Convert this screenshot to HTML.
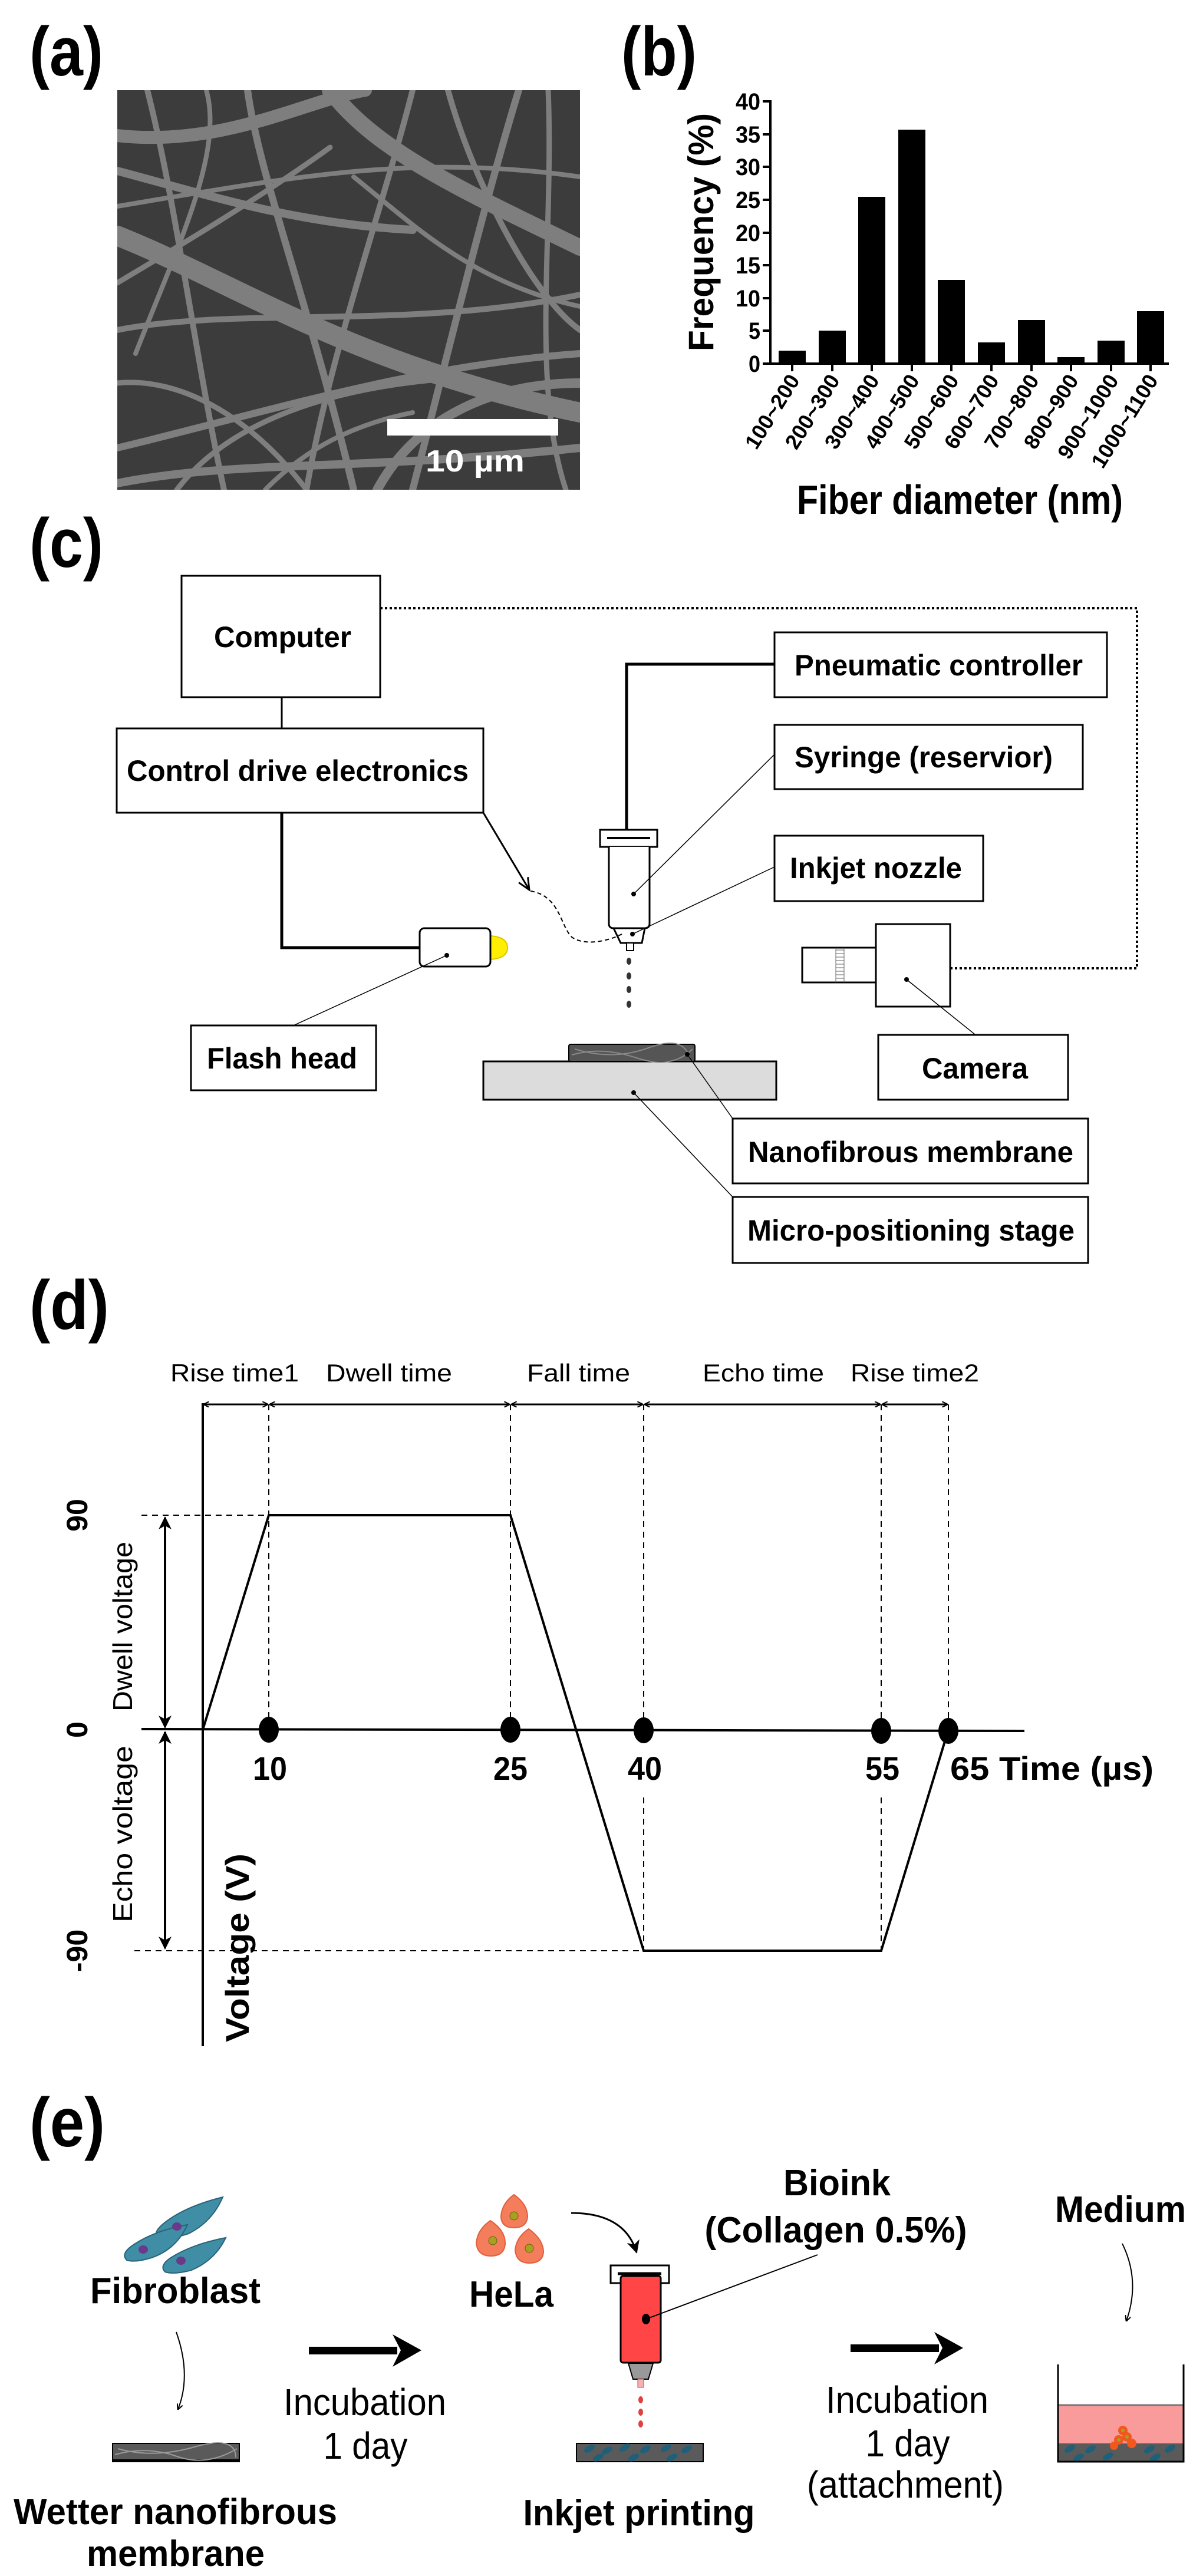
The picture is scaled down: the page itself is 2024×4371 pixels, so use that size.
<!DOCTYPE html>
<html><head><meta charset="utf-8"><style>
html,body{margin:0;padding:0;background:#fff}
svg{display:block}
text{font-family:"Liberation Sans",Arial,sans-serif}
.b{font-weight:bold}
</style></head><body>
<svg width="2024" height="4371" viewBox="0 0 2024 4371" xmlns="http://www.w3.org/2000/svg">
<defs>
<marker id="ah" markerWidth="10" markerHeight="10" refX="9" refY="5" orient="auto" markerUnits="userSpaceOnUse"><path d="M0,0 L10,5 L0,10" fill="none" stroke="#000" stroke-width="2"/></marker>
<marker id="ahs" markerWidth="22" markerHeight="22" refX="20" refY="11" orient="auto" markerUnits="userSpaceOnUse"><path d="M0,2 L20,11 L0,20" fill="none" stroke="#000" stroke-width="3"/></marker>
<marker id="ahf" markerWidth="22" markerHeight="22" refX="20" refY="11" orient="auto" markerUnits="userSpaceOnUse"><path d="M0,0 L22,11 L0,22 L6,11Z" fill="#000"/></marker>
<clipPath id="sem"><rect x="199" y="153" width="785" height="678"/></clipPath>
</defs>

<!-- (a) -->
<text x="50" y="128" class="b" font-size="118" textLength="125" lengthAdjust="spacingAndGlyphs">(a)</text>
<g clip-path="url(#sem)">
<rect x="199" y="153" width="785" height="678" fill="#3c3c3c"/>
<g fill="none" stroke="#7e7e7e" stroke-linecap="round">
<path d="M199,400 C400,480 600,620 984,700" stroke-width="34"/>
<path d="M199,230 C380,250 520,170 620,153" stroke-width="22"/>
<path d="M560,153 C640,260 800,330 984,420" stroke-width="28"/>
<path d="M199,290 C350,330 500,380 700,390" stroke-width="14"/>
<path d="M250,153 C300,350 330,600 380,831" stroke-width="10"/>
<path d="M420,153 C440,300 520,500 600,831" stroke-width="12"/>
<path d="M700,153 C650,350 560,600 520,831" stroke-width="10"/>
<path d="M880,153 C820,350 760,600 700,831" stroke-width="12"/>
<path d="M199,560 C400,520 700,560 984,500" stroke-width="10"/>
<path d="M199,760 C450,700 700,620 984,600" stroke-width="12"/>
<path d="M199,820 C400,780 600,800 984,760" stroke-width="14"/>
<path d="M300,831 C400,700 600,650 800,640" stroke-width="9"/>
<path d="M199,480 C300,420 450,330 560,250" stroke-width="9"/>
<path d="M760,153 C800,300 900,500 984,560" stroke-width="10"/>
<path d="M199,650 C300,640 420,700 520,831" stroke-width="9"/>
<path d="M600,300 C700,380 800,480 984,520" stroke-width="8"/>
<path d="M350,153 C380,260 300,420 230,600" stroke-width="8"/>
<path d="M930,153 C940,400 900,650 960,831" stroke-width="9"/>
<path d="M199,350 C500,300 700,260 984,300" stroke-width="8"/>
<path d="M640,831 C700,720 820,650 984,650" stroke-width="16"/>
<path d="M450,831 C520,760 600,720 700,700" stroke-width="8"/>
</g>
<rect x="657" y="711" width="290" height="28" fill="#fff"/>
<text x="806" y="800" class="b" font-size="52" fill="#fff" text-anchor="middle" textLength="168" lengthAdjust="spacingAndGlyphs">10 µm</text>
</g>

<!-- (b) -->
<text x="1054" y="128" class="b" font-size="118" textLength="128" lengthAdjust="spacingAndGlyphs">(b)</text>
<g stroke="#000" stroke-width="4">
<line x1="1307" y1="170" x2="1307" y2="619"/>
<line x1="1305" y1="617" x2="1983" y2="617"/>
<line x1="1294" y1="172" x2="1307" y2="172"/><line x1="1294" y1="228" x2="1307" y2="228"/>
<line x1="1294" y1="283" x2="1307" y2="283"/><line x1="1294" y1="339" x2="1307" y2="339"/>
<line x1="1294" y1="395" x2="1307" y2="395"/><line x1="1294" y1="450" x2="1307" y2="450"/>
<line x1="1294" y1="506" x2="1307" y2="506"/><line x1="1294" y1="561" x2="1307" y2="561"/>
<line x1="1294" y1="617" x2="1307" y2="617"/>
</g>
<g class="b" font-size="40" text-anchor="end">
<text x="1290" y="186" textLength="42" lengthAdjust="spacingAndGlyphs">40</text>
<text x="1290" y="242" textLength="42" lengthAdjust="spacingAndGlyphs">35</text>
<text x="1290" y="297" textLength="42" lengthAdjust="spacingAndGlyphs">30</text>
<text x="1290" y="353" textLength="42" lengthAdjust="spacingAndGlyphs">25</text>
<text x="1290" y="409" textLength="42" lengthAdjust="spacingAndGlyphs">20</text>
<text x="1290" y="464" textLength="42" lengthAdjust="spacingAndGlyphs">15</text>
<text x="1290" y="520" textLength="42" lengthAdjust="spacingAndGlyphs">10</text>
<text x="1290" y="575" textLength="20" lengthAdjust="spacingAndGlyphs">5</text>
<text x="1290" y="631" textLength="20" lengthAdjust="spacingAndGlyphs">0</text>
</g>
<text transform="translate(1210,394) rotate(-90)" class="b" font-size="60" text-anchor="middle" textLength="404" lengthAdjust="spacingAndGlyphs">Frequency (%)</text>
<g fill="#000">
<rect x="1321" y="595" width="46" height="22"/>
<rect x="1389" y="561" width="46" height="56"/>
<rect x="1456" y="334" width="46" height="283"/>
<rect x="1524" y="220" width="46" height="397"/>
<rect x="1591" y="475" width="46" height="142"/>
<rect x="1659" y="581" width="46" height="36"/>
<rect x="1727" y="543" width="46" height="74"/>
<rect x="1794" y="606" width="46" height="11"/>
<rect x="1862" y="578" width="46" height="39"/>
<rect x="1929" y="528" width="46" height="89"/>
</g>
<g stroke="#000" stroke-width="4">
<line x1="1344" y1="617" x2="1344" y2="630"/><line x1="1412" y1="617" x2="1412" y2="630"/>
<line x1="1479" y1="617" x2="1479" y2="630"/><line x1="1547" y1="617" x2="1547" y2="630"/>
<line x1="1614" y1="617" x2="1614" y2="630"/><line x1="1682" y1="617" x2="1682" y2="630"/>
<line x1="1750" y1="617" x2="1750" y2="630"/><line x1="1817" y1="617" x2="1817" y2="630"/>
<line x1="1885" y1="617" x2="1885" y2="630"/><line x1="1952" y1="617" x2="1952" y2="630"/>
</g>
<g class="b" font-size="36" text-anchor="end">
<text transform="translate(1358,645) rotate(-58)">100~200</text>
<text transform="translate(1426,645) rotate(-58)">200~300</text>
<text transform="translate(1493,645) rotate(-58)">300~400</text>
<text transform="translate(1561,645) rotate(-58)">400~500</text>
<text transform="translate(1628,645) rotate(-58)">500~600</text>
<text transform="translate(1696,645) rotate(-58)">600~700</text>
<text transform="translate(1764,645) rotate(-58)">700~800</text>
<text transform="translate(1831,645) rotate(-58)">800~900</text>
<text transform="translate(1899,645) rotate(-58)">900~1000</text>
<text transform="translate(1966,645) rotate(-58)">1000~1100</text>
</g>
<text x="1352" y="872" class="b" font-size="70" textLength="553" lengthAdjust="spacingAndGlyphs">Fiber diameter (nm)</text>

<!-- (c) -->
<text x="50" y="962" class="b" font-size="118" textLength="125" lengthAdjust="spacingAndGlyphs">(c)</text>
<g fill="none" stroke="#000" stroke-width="3">
<rect x="308" y="977" width="337" height="206"/>
<rect x="198" y="1236" width="622" height="143"/>
<rect x="1314" y="1073" width="564" height="110"/>
<rect x="1314" y="1230" width="523" height="109"/>
<rect x="1314" y="1418" width="354" height="111"/>
<rect x="324" y="1740" width="314" height="110"/>
<rect x="1490" y="1756" width="322" height="110"/>
<rect x="1243" y="1898" width="603" height="110"/>
<rect x="1243" y="2031" width="603" height="112"/>
</g>
<g class="b" font-size="50">
<text x="363" y="1098" textLength="233" lengthAdjust="spacingAndGlyphs">Computer</text>
<text x="215" y="1325" textLength="580" lengthAdjust="spacingAndGlyphs">Control drive electronics</text>
<text x="1348" y="1146" textLength="489" lengthAdjust="spacingAndGlyphs">Pneumatic controller</text>
<text x="1348" y="1302" textLength="438" lengthAdjust="spacingAndGlyphs">Syringe (reservior)</text>
<text x="1340" y="1490" textLength="292" lengthAdjust="spacingAndGlyphs">Inkjet nozzle</text>
<text x="351" y="1813" textLength="255" lengthAdjust="spacingAndGlyphs">Flash head</text>
<text x="1564" y="1830" textLength="180" lengthAdjust="spacingAndGlyphs">Camera</text>
<text x="1269" y="1972" textLength="552" lengthAdjust="spacingAndGlyphs">Nanofibrous membrane</text>
<text x="1268" y="2105" textLength="555" lengthAdjust="spacingAndGlyphs">Micro-positioning stage</text>
</g>
<line x1="478" y1="1183" x2="478" y2="1236" stroke="#000" stroke-width="3"/>
<polyline points="645,1032 1929,1032 1929,1643 1612,1643" fill="none" stroke="#000" stroke-width="4" stroke-dasharray="4,4"/>
<polyline points="478,1379 478,1608 712,1608" fill="none" stroke="#000" stroke-width="5"/>
<polyline points="1314,1127 1063,1127 1063,1408" fill="none" stroke="#000" stroke-width="5"/>
<rect x="1018" y="1408" width="97" height="29" fill="#fff" stroke="#000" stroke-width="3"/>
<line x1="1030" y1="1422" x2="1103" y2="1422" stroke="#000" stroke-width="4"/>
<path d="M1033,1437 L1033,1567 Q1033,1575 1041,1575 L1094,1575 Q1102,1575 1102,1567 L1102,1437" fill="#fff" stroke="#000" stroke-width="3"/>
<path d="M1041,1575 L1053,1600 L1089,1600 L1094,1575Z" fill="#fff" stroke="#000" stroke-width="3"/>
<rect x="1063" y="1600" width="12" height="13" fill="#fff" stroke="#000" stroke-width="2"/>
<g fill="#333"><ellipse cx="1067" cy="1631" rx="4" ry="6"/><ellipse cx="1067" cy="1656" rx="4" ry="6"/><ellipse cx="1067" cy="1679" rx="4" ry="6"/><ellipse cx="1067" cy="1704" rx="4" ry="6"/></g>
<path d="M832,1588 Q861,1590 861,1608 Q861,1626 832,1628Z" fill="#ffee00" stroke="#d8c800" stroke-width="2"/>
<rect x="712" y="1575" width="120" height="65" rx="8" fill="#fff" stroke="#000" stroke-width="3"/>
<rect x="1361" y="1608" width="125" height="59" fill="#fff" stroke="#000" stroke-width="3"/>
<g stroke="#666" stroke-width="1"><line x1="1418" y1="1612" x2="1432" y2="1612"/><line x1="1418" y1="1618" x2="1432" y2="1618"/><line x1="1418" y1="1624" x2="1432" y2="1624"/><line x1="1418" y1="1630" x2="1432" y2="1630"/><line x1="1418" y1="1636" x2="1432" y2="1636"/><line x1="1418" y1="1642" x2="1432" y2="1642"/><line x1="1418" y1="1648" x2="1432" y2="1648"/><line x1="1418" y1="1654" x2="1432" y2="1654"/><line x1="1418" y1="1660" x2="1432" y2="1660"/><line x1="1418" y1="1608" x2="1418" y2="1667"/><line x1="1432" y1="1608" x2="1432" y2="1667"/></g>
<rect x="1486" y="1568" width="126" height="140" fill="#fff" stroke="#000" stroke-width="3"/>
<rect x="820" y="1801" width="497" height="65" fill="#dcdcdc" stroke="#000" stroke-width="3"/>
<rect x="965" y="1772" width="214" height="29" rx="3" fill="#555" stroke="#000" stroke-width="2"/>
<g stroke="#888" stroke-width="2" fill="none"><path d="M970,1790 Q1020,1775 1080,1795 T1175,1780"/><path d="M975,1780 Q1040,1800 1100,1778 T1170,1795"/></g>
<line x1="820" y1="1379" x2="898" y2="1510" stroke="#000" stroke-width="3" marker-end="url(#ahs)"/>
<path d="M900,1512 C950,1520 950,1570 970,1590 C990,1605 1030,1598 1055,1585" fill="none" stroke="#000" stroke-width="2" stroke-dasharray="7,5"/>
<g stroke="#000" stroke-width="1.5">
<line x1="1314" y1="1280" x2="1075" y2="1517"/>
<line x1="1314" y1="1471" x2="1073" y2="1585"/>
<line x1="758" y1="1621" x2="498" y2="1740"/>
<line x1="1538" y1="1662" x2="1655" y2="1756"/>
<line x1="1166" y1="1789" x2="1243" y2="1898"/>
<line x1="1075" y1="1854" x2="1243" y2="2031"/>
</g>
<g fill="#000"><circle cx="1075" cy="1517" r="4"/><circle cx="1073" cy="1585" r="4"/><circle cx="758" cy="1621" r="4"/><circle cx="1538" cy="1662" r="4"/><circle cx="1166" cy="1789" r="4"/><circle cx="1075" cy="1854" r="4"/></g>

<!-- (d) -->
<text x="50" y="2255" class="b" font-size="118" textLength="135" lengthAdjust="spacingAndGlyphs">(d)</text>
<g font-size="42">
<text x="289" y="2344" textLength="218" lengthAdjust="spacingAndGlyphs">Rise time1</text>
<text x="553" y="2344" textLength="214" lengthAdjust="spacingAndGlyphs">Dwell time</text>
<text x="894" y="2344" textLength="175" lengthAdjust="spacingAndGlyphs">Fall time</text>
<text x="1192" y="2344" textLength="206" lengthAdjust="spacingAndGlyphs">Echo time</text>
<text x="1443" y="2344" textLength="218" lengthAdjust="spacingAndGlyphs">Rise time2</text>
</g>
<line x1="344" y1="2381" x2="344" y2="3472" stroke="#000" stroke-width="4"/>
<g stroke="#000" stroke-width="3">
<path d="M346,2383 L454,2383" marker-end="url(#ah)"/><path d="M454,2383 L346,2383" marker-end="url(#ah)"/>
<path d="M458,2383 L864,2383" marker-end="url(#ah)"/><path d="M864,2383 L458,2383" marker-end="url(#ah)"/>
<path d="M868,2383 L1090,2383" marker-end="url(#ah)"/><path d="M1090,2383 L868,2383" marker-end="url(#ah)"/>
<path d="M1094,2383 L1493,2383" marker-end="url(#ah)"/><path d="M1493,2383 L1094,2383" marker-end="url(#ah)"/>
<path d="M1497,2383 L1607,2383" marker-end="url(#ah)"/><path d="M1607,2383 L1497,2383" marker-end="url(#ah)"/>
</g>
<g stroke="#000" stroke-width="2" stroke-dasharray="10,8" fill="none">
<line x1="456" y1="2383" x2="456" y2="2935"/>
<line x1="866" y1="2383" x2="866" y2="2935"/>
<line x1="1092" y1="2383" x2="1092" y2="2935"/>
<line x1="1495" y1="2383" x2="1495" y2="2935"/>
<line x1="1609" y1="2383" x2="1609" y2="2935"/>
<line x1="1092" y1="3050" x2="1092" y2="3310"/>
<line x1="1495" y1="3050" x2="1495" y2="3310"/>
<line x1="240" y1="2571" x2="456" y2="2571"/>
<line x1="228" y1="3310" x2="1092" y2="3310"/>
</g>
<line x1="240" y1="2934" x2="1738" y2="2937" stroke="#000" stroke-width="4"/>
<polyline points="344,2935 456,2571 866,2571 1092,3310 1495,3310 1609,2935" fill="none" stroke="#000" stroke-width="4"/>
<g fill="#000"><ellipse cx="456" cy="2935" rx="17" ry="22"/><ellipse cx="866" cy="2935" rx="17" ry="22"/><ellipse cx="1092" cy="2936" rx="17" ry="22"/><ellipse cx="1495" cy="2937" rx="17" ry="22"/><ellipse cx="1609" cy="2937" rx="17" ry="22"/></g>
<g class="b" font-size="56" text-anchor="middle">
<text x="458" y="3020" textLength="58" lengthAdjust="spacingAndGlyphs">10</text>
<text x="866" y="3020" textLength="58" lengthAdjust="spacingAndGlyphs">25</text>
<text x="1094" y="3020" textLength="58" lengthAdjust="spacingAndGlyphs">40</text>
<text x="1497" y="3020" textLength="58" lengthAdjust="spacingAndGlyphs">55</text>
</g>
<text x="1612" y="3020" class="b" font-size="56" textLength="345" lengthAdjust="spacingAndGlyphs">65 Time (µs)</text>
<g class="b" font-size="50" text-anchor="middle">
<text transform="translate(148,2571) rotate(-90)">90</text>
<text transform="translate(148,2935) rotate(-90)">0</text>
<text transform="translate(148,3310) rotate(-90)">-90</text>
</g>
<g font-size="46" text-anchor="middle">
<text transform="translate(224,2760) rotate(-90)" textLength="288" lengthAdjust="spacingAndGlyphs">Dwell voltage</text>
<text transform="translate(224,3112) rotate(-90)" textLength="300" lengthAdjust="spacingAndGlyphs">Echo voltage</text>
</g>
<g stroke="#000" stroke-width="4">
<path d="M280,2750 L280,2575" marker-end="url(#ahf)"/><path d="M280,2750 L280,2931" marker-end="url(#ahf)"/>
<path d="M280,3120 L280,2939" marker-end="url(#ahf)"/><path d="M280,3120 L280,3306" marker-end="url(#ahf)"/>
</g>
<text transform="translate(422,3305) rotate(-90)" class="b" font-size="56" text-anchor="middle" textLength="320" lengthAdjust="spacingAndGlyphs">Voltage (V)</text>

<!-- (e) -->
<text x="50" y="3642" class="b" font-size="118" textLength="128" lengthAdjust="spacingAndGlyphs">(e)</text>
<g fill="#3f8ea6" stroke="#2a6377" stroke-width="2">
<path d="M378,3728 Q360,3770 320,3790 Q290,3800 270,3798 Q258,3790 275,3775 Q310,3745 378,3728Z"/>
<path d="M318,3775 Q300,3815 260,3830 Q230,3840 215,3835 Q205,3825 222,3812 Q260,3785 318,3775Z"/>
<path d="M383,3797 Q365,3835 325,3852 Q295,3860 280,3855 Q270,3845 288,3832 Q325,3808 383,3797Z"/>
</g>
<g fill="#6a3a8a"><ellipse cx="300" cy="3778" rx="8" ry="7"/><ellipse cx="243" cy="3817" rx="8" ry="7"/><ellipse cx="307" cy="3836" rx="8" ry="7"/></g>
<text x="153" y="3908" class="b" font-size="62" textLength="289" lengthAdjust="spacingAndGlyphs">Fibroblast</text>
<path d="M299,3957 Q325,4030 302,4088" fill="none" stroke="#000" stroke-width="2" marker-end="url(#ah)"/>
<rect x="191" y="4146" width="215" height="31" fill="#5a5a5a" stroke="#000" stroke-width="2"/>
<line x1="191" y1="4175" x2="406" y2="4175" stroke="#000" stroke-width="4"/>
<g stroke="#999" stroke-width="2" fill="none"><path d="M195,4165 Q250,4150 300,4168 T402,4155"/><path d="M200,4155 Q260,4172 330,4152 T400,4170"/></g>
<g class="b" font-size="62">
<text x="23" y="4283" textLength="549" lengthAdjust="spacingAndGlyphs">Wetter nanofibrous</text>
<text x="147" y="4354" textLength="302" lengthAdjust="spacingAndGlyphs">membrane</text>
</g>
<rect x="524" y="3982" width="150" height="13" fill="#000"/>
<polygon points="666,3961 715,3988 666,4016 680,3988" fill="#000"/>
<g font-size="64" text-anchor="middle">
<text x="619" y="4098" textLength="276" lengthAdjust="spacingAndGlyphs">Incubation</text>
<text x="620" y="4172" textLength="143" lengthAdjust="spacingAndGlyphs">1 day</text>
<text x="1539" y="4094" textLength="276" lengthAdjust="spacingAndGlyphs">Incubation</text>
<text x="1540" y="4168" textLength="143" lengthAdjust="spacingAndGlyphs">1 day</text>
<text x="1536" y="4238" textLength="334" lengthAdjust="spacingAndGlyphs">(attachment)</text>
</g>
<g fill="#f47e5c" stroke="#e0603e" stroke-width="2">
<path d="M872,3724 Q895,3740 895,3762 Q893,3780 872,3780 Q850,3780 850,3760 Q852,3738 872,3724Z"/>
<path d="M832,3768 Q858,3785 857,3808 Q855,3828 833,3828 Q810,3828 808,3806 Q810,3783 832,3768Z"/>
<path d="M897,3782 Q922,3800 922,3822 Q920,3840 898,3840 Q876,3840 874,3818 Q876,3796 897,3782Z"/>
</g>
<g fill="#a8a020" stroke="#6a6010"><circle cx="872" cy="3760" r="7"/><circle cx="836" cy="3802" r="7"/><circle cx="898" cy="3815" r="7"/></g>
<text x="796" y="3914" class="b" font-size="62" textLength="143" lengthAdjust="spacingAndGlyphs">HeLa</text>
<path d="M969,3755 Q1060,3755 1080,3822" fill="none" stroke="#000" stroke-width="3" marker-end="url(#ahf)"/>
<rect x="1036" y="3844" width="99" height="30" fill="#fff" stroke="#000" stroke-width="3"/>
<line x1="1048" y1="3858" x2="1122" y2="3858" stroke="#000" stroke-width="5"/>
<rect x="1053" y="3862" width="68" height="147" rx="4" fill="#ff4545" stroke="#000" stroke-width="3"/>
<path d="M1066,4010 L1108,4010 L1100,4037 L1074,4037Z" fill="#999" stroke="#000" stroke-width="2"/>
<rect x="1082" y="4037" width="10" height="14" fill="#f7b0b0" stroke="#c44" stroke-width="1"/>
<g fill="#e04040"><ellipse cx="1087" cy="4072" rx="4" ry="6"/><ellipse cx="1087" cy="4093" rx="4" ry="6"/><ellipse cx="1087" cy="4113" rx="4" ry="6"/></g>
<line x1="1096" y1="3935" x2="1387" y2="3826" stroke="#000" stroke-width="2"/>
<ellipse cx="1096" cy="3935" rx="7" ry="9" fill="#000"/>
<rect x="978" y="4146" width="215" height="31" fill="#5a5a5a" stroke="#000" stroke-width="2"/>
<g fill="#1f5f7a"><ellipse cx="1000" cy="4155" rx="10" ry="5" transform="rotate(-30 1000 4155)"/><ellipse cx="1030" cy="4158" rx="10" ry="5" transform="rotate(-30 1030 4158)"/><ellipse cx="1060" cy="4153" rx="10" ry="5" transform="rotate(-30 1060 4153)"/><ellipse cx="1095" cy="4156" rx="10" ry="5" transform="rotate(-30 1095 4156)"/><ellipse cx="1130" cy="4154" rx="10" ry="5" transform="rotate(-30 1130 4154)"/><ellipse cx="1165" cy="4156" rx="10" ry="5" transform="rotate(-30 1165 4156)"/><ellipse cx="1015" cy="4170" rx="10" ry="5" transform="rotate(-30 1015 4170)"/><ellipse cx="1075" cy="4170" rx="10" ry="5" transform="rotate(-30 1075 4170)"/><ellipse cx="1140" cy="4170" rx="10" ry="5" transform="rotate(-30 1140 4170)"/></g>
<g class="b" font-size="62" text-anchor="middle">
<text x="1420" y="3725" textLength="182" lengthAdjust="spacingAndGlyphs">Bioink</text>
<text x="1418" y="3805" textLength="445" lengthAdjust="spacingAndGlyphs">(Collagen 0.5%)</text>
<text x="1084" y="4285" textLength="393" lengthAdjust="spacingAndGlyphs">Inkjet printing</text>
<text x="1901" y="3770" textLength="222" lengthAdjust="spacingAndGlyphs">Medium</text>
</g>
<rect x="1443" y="3978" width="150" height="13" fill="#000"/>
<polygon points="1585,3957 1634,3984 1585,4012 1599,3984" fill="#000"/>
<path d="M1904,3807 Q1935,3870 1911,3938" fill="none" stroke="#000" stroke-width="2" marker-end="url(#ah)"/>
<rect x="1795" y="4081" width="213" height="96" fill="#f99b9b"/>
<line x1="1795" y1="4081" x2="2008" y2="4081" stroke="#777" stroke-width="3"/>
<rect x="1795" y="4146" width="213" height="31" fill="#5a5a5a"/>
<g fill="#1f5f7a"><ellipse cx="1815" cy="4155" rx="10" ry="5" transform="rotate(-30 1815 4155)"/><ellipse cx="1850" cy="4156" rx="10" ry="5" transform="rotate(-30 1850 4156)"/><ellipse cx="1950" cy="4156" rx="10" ry="5" transform="rotate(-30 1950 4156)"/><ellipse cx="1985" cy="4155" rx="10" ry="5" transform="rotate(-30 1985 4155)"/><ellipse cx="1830" cy="4170" rx="10" ry="5" transform="rotate(-30 1830 4170)"/><ellipse cx="1880" cy="4168" rx="10" ry="5" transform="rotate(-30 1880 4168)"/><ellipse cx="1960" cy="4170" rx="10" ry="5" transform="rotate(-30 1960 4170)"/></g>
<g fill="#f0581e"><circle cx="1898" cy="4140" r="8"/><circle cx="1912" cy="4135" r="8"/><circle cx="1905" cy="4124" r="8"/><circle cx="1920" cy="4146" r="8"/><circle cx="1890" cy="4150" r="7"/></g>
<g fill="#a8a020"><circle cx="1898" cy="4140" r="3"/><circle cx="1912" cy="4135" r="3"/><circle cx="1905" cy="4124" r="3"/></g>
<polyline points="1795,4012 1795,4177 2008,4177 2008,4012" fill="none" stroke="#000" stroke-width="3"/>
</svg>
</body></html>
